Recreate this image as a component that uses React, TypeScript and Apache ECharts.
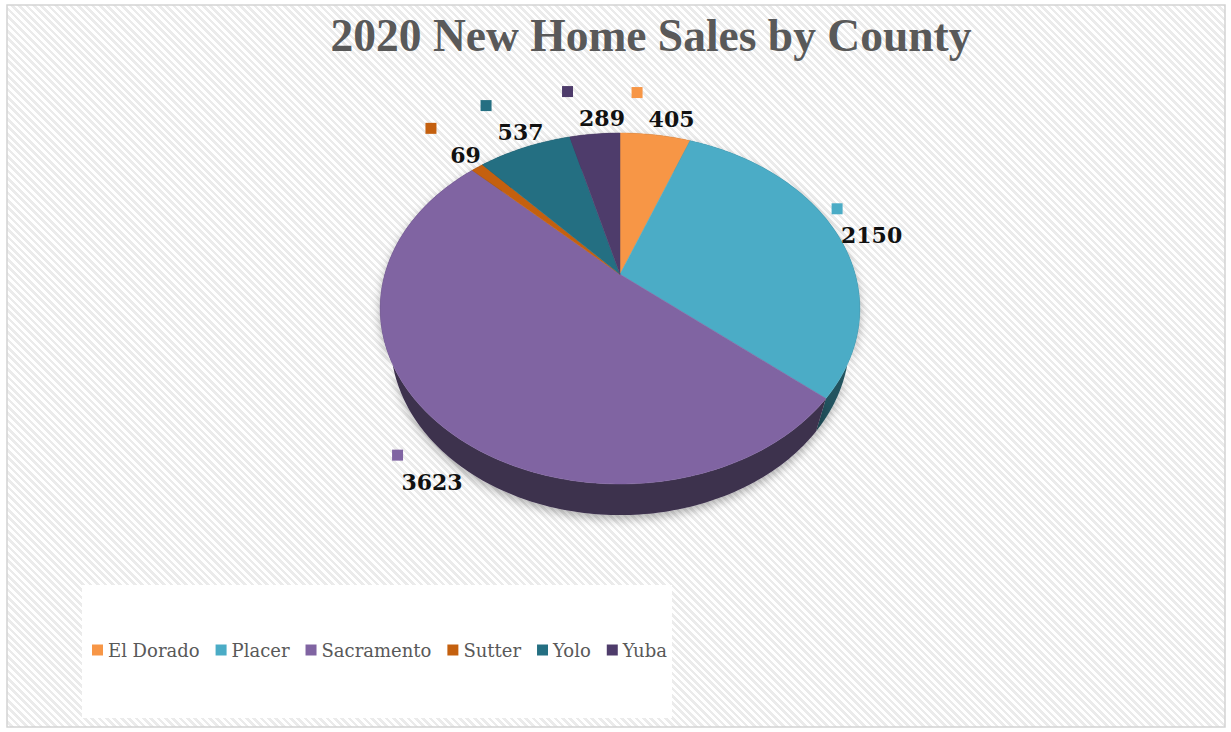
import React, { useEffect, useRef } from "react";
import * as echarts from "echarts";

const titleText = "2020 New Home Sales by County";
const counties = ["El Dorado", "Placer", "Sacramento", "Sutter", "Yolo", "Yuba"];
const sales = [405, 2150, 3623, 69, 537, 289];
const colors = ["#F79646", "#4BACC6", "#8064A2", "#C4600F", "#246F82", "#4E3C6B"];

// 3D pie projection (tilted disc seen with perspective)
const CX = 620;
const CY = 274.3;
const R = 235.2;
const SIN_E = 0.7177;
const COS_E = 0.6963;
const DIST = 839.8;
const THICK = 51;

function proj(deg: number, k: number, y3: number): number[] {
  const t = (deg * Math.PI) / 180;
  const X = k * R * Math.sin(t);
  const Z = k * R * Math.cos(t);
  const v = Z * SIN_E + y3 * COS_E;
  const w = Z * COS_E - y3 * SIN_E;
  const s = DIST / (DIST + w);
  return [CX + s * X, CY - s * v];
}

function shade(hex: string, f: number): string {
  const n = parseInt(hex.slice(1), 16);
  const r = Math.round(((n >> 16) & 255) * f);
  const g = Math.round(((n >> 8) & 255) * f);
  const b = Math.round((n & 255) * f);
  return `rgb(${r},${g},${b})`;
}

function arc(a1: number, a2: number, y3: number): number[][] {
  const pts: number[][] = [];
  const n = Math.max(2, Math.ceil(a2 - a1));
  for (let i = 0; i <= n; i++) pts.push(proj(a1 + ((a2 - a1) * i) / n, 1, y3));
  return pts;
}

export default function App() {
  const ref = useRef<HTMLDivElement>(null);
  useEffect(() => {
    if (!ref.current) return;
    const chart = echarts.init(ref.current, undefined, { renderer: "svg" });
    const total = sales.reduce((a, b) => a + b, 0);
    const starts: number[] = [];
    let acc = 0;
    for (const v of sales) {
      starts.push((acc / total) * 360);
      acc += v;
    }
    const C0 = [620, 309];
    const HW = 20;
    const HH = 22;
    const GAP = 4;

    chart.setOption({
      animation: false,
      color: colors,
      title: {
        text: titleText,
        left: 646,
        textAlign: "center",
        top: 7,
        textStyle: {
          fontFamily: "Liberation Serif",
          fontWeight: "bold",
          fontSize: 45.5,
          color: "#595959",
        },
      },
      legend: {
        left: 92,
        top: 641,
        padding: 0,
        itemWidth: 11,
        itemHeight: 11,
        itemGap: 16,
        icon: "rect",
        selectedMode: false,
        data: counties,
        textStyle: { fontFamily: "DejaVu Serif", fontSize: 18, color: "#595959" },
      },
      graphic: [
        {
          type: "rect",
          shape: { x: 7, y: 5, width: 1218, height: 722 },
          style: { fill: "none", stroke: "#d4d4d4", lineWidth: 1.5 },
          silent: true,
          z: -10,
        },
        {
          type: "rect",
          shape: { x: 82, y: 585, width: 590, height: 133 },
          style: { fill: "#ffffff" },
          silent: true,
          z: -5,
        },
      ],
      series: [
        {
          type: "pie",
          center: [-300, -300],
          radius: [0, 1],
          silent: true,
          label: { show: false },
          labelLine: { show: false },
          data: counties.map((c, i) => ({ name: c, value: sales[i] })),
        },
        {
          type: "custom",
          coordinateSystem: "none",
          silent: true,
          data: counties.map((c, i) => ({ name: c, value: [sales[i]] })),
          renderItem: (params: any, api: any) => {
            const i = params.dataIndex;
            const v = api.value(0);
            const a1 = starts[i];
            const a2 = a1 + (v / total) * 360;
            const col = colors[i];
            const top = arc(a1, a2, 0);
            const bottom = arc(a1, a2, -THICK).reverse();
            const mid = (a1 + a2) / 2;
            const front = Math.cos((mid * Math.PI) / 180) < 0;
            const P = proj(mid, 1, front ? -THICK : 0);
            let dx = P[0] - C0[0];
            let dy = P[1] - C0[1];
            const len = Math.hypot(dx, dy);
            dx /= len;
            dy /= len;
            const t =
              Math.min(
                Math.abs(dx) > 1e-6 ? HW / Math.abs(dx) : 1e9,
                Math.abs(dy) > 1e-6 ? HH / Math.abs(dy) : 1e9
              ) + GAP;
            const bx = P[0] + dx * t;
            const by = P[1] + dy * t - 4;
            return {
              type: "group",
              children: [
                {
                  type: "polygon",
                  z2: 1,
                  shape: { points: top.concat(bottom) },
                  style: {
                    fill: shade(col, 0.48),
                    shadowBlur: 10,
                    shadowColor: "rgba(0,0,0,0.3)",
                    shadowOffsetY: 4,
                  },
                },
                {
                  type: "polygon",
                  z2: 10,
                  shape: { points: [[CX, CY]].concat(top) },
                  style: { fill: col, stroke: col, lineWidth: 0.5 },
                },
                {
                  type: "rect",
                  z2: 20,
                  shape: { x: bx - 29, y: by - 18, width: 11, height: 11 },
                  style: { fill: col },
                },
                {
                  type: "text",
                  z2: 20,
                  x: bx + 11,
                  y: by + 14,
                  style: {
                    text: String(v),
                    fill: "#111111",
                    font: "bold 22px 'DejaVu Serif'",
                    align: "center",
                    verticalAlign: "middle",
                  },
                },
              ],
            };
          },
        },
      ],
    });
    return () => chart.dispose();
  }, []);

  return (
    <div style={{ position: "absolute", left: 0, top: 0, width: 1231, height: 732, background: "#ffffff" }}>
      <div
        style={{
          position: "absolute",
          left: 7,
          top: 5,
          width: 1218,
          height: 722,
          background:
            "repeating-linear-gradient(45deg, #ffffff 0px, #ffffff 2.6px, #ebebeb 2.6px, #ebebeb 5.2px)",
        }}
      />
      <div ref={ref} style={{ position: "absolute", left: 0, top: 0, width: 1231, height: 732 }} />
    </div>
  );
}
